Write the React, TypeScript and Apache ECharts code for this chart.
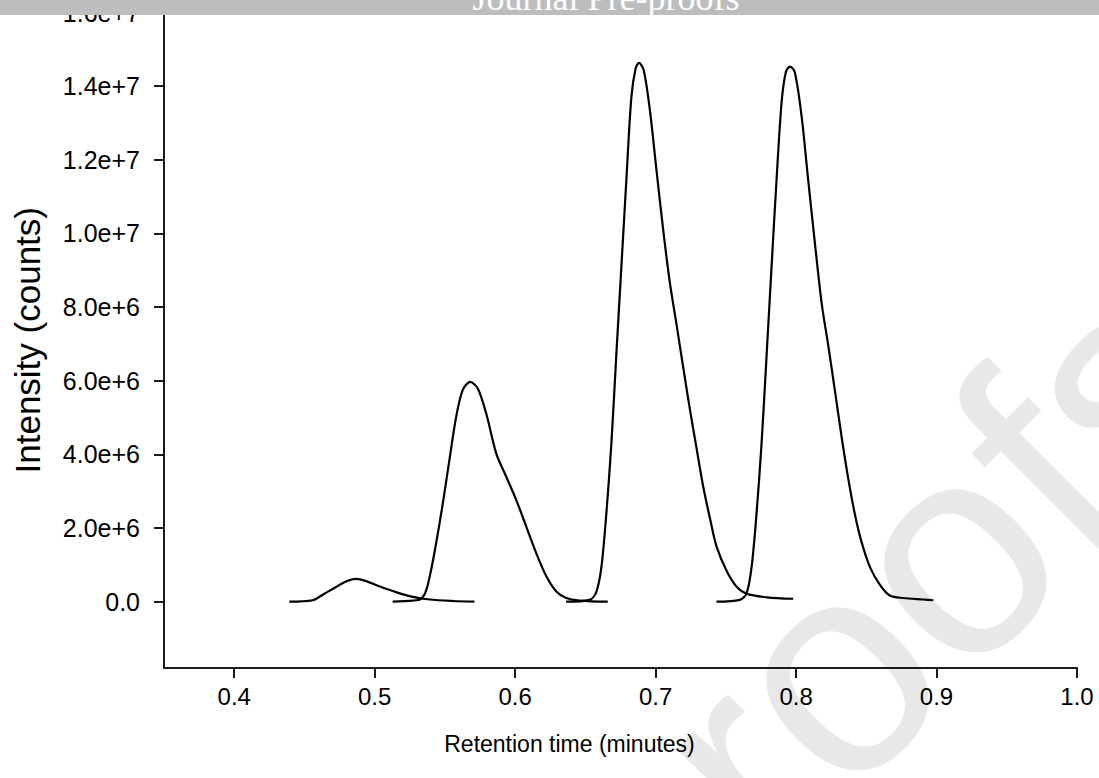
import React, { useEffect, useRef } from "react";
import * as echarts from "echarts";

// Retention time (minutes) and intensity (counts)
const peak1Time = [0.4392, 0.4558, 0.463, 0.4725, 0.4796, 0.4867, 0.4939, 0.5033, 0.5152, 0.5271, 0.539, 0.5556, 0.571];
const peak1Int = [0, 0.04e6, 0.19e6, 0.4e6, 0.55e6, 0.62e6, 0.56e6, 0.42e6, 0.26e6, 0.13e6, 0.06e6, 0.02e6, 0];

const peak2Time = [0.5128, 0.5271, 0.533, 0.5366, 0.5402, 0.5438, 0.5485, 0.5532, 0.558, 0.5627, 0.568, 0.5734, 0.5794, 0.5865, 0.5936, 0.6008, 0.6079, 0.615, 0.6222, 0.6293, 0.6364, 0.6459, 0.6659];
const peak2Int = [0, 0.03e6, 0.08e6, 0.3e6, 0.87e6, 1.6e6, 2.67e6, 3.85e6, 5.02e6, 5.75e6, 5.97e6, 5.79e6, 5.11e6, 4.03e6, 3.4e6, 2.76e6, 2.04e6, 1.32e6, 0.69e6, 0.28e6, 0.1e6, 0.03e6, 0];

const peak3Time = [0.6363, 0.653, 0.6578, 0.6614, 0.6649, 0.6685, 0.672, 0.6756, 0.6792, 0.6827, 0.6858, 0.6882, 0.6915, 0.6958, 0.7005, 0.7053, 0.71, 0.7148, 0.7195, 0.7243, 0.729, 0.7338, 0.7386, 0.7433, 0.7505, 0.7576, 0.7647, 0.779, 0.798];
const peak3Int = [0, 0.05e6, 0.27e6, 0.94e6, 2.38e6, 4.29e6, 6.69e6, 9.08e6, 11.47e6, 13.68e6, 14.49e6, 14.63e6, 14.44e6, 13.39e6, 11.76e6, 10.13e6, 8.7e6, 7.55e6, 6.4e6, 5.25e6, 4.2e6, 3.14e6, 2.28e6, 1.51e6, 0.84e6, 0.41e6, 0.22e6, 0.12e6, 0.08e6];

const peak4Time = [0.7433, 0.7599, 0.7647, 0.7683, 0.7718, 0.7754, 0.779, 0.7825, 0.7861, 0.7897, 0.7927, 0.7956, 0.7991, 0.8039, 0.8086, 0.8134, 0.8182, 0.8229, 0.8277, 0.8324, 0.8372, 0.8419, 0.8467, 0.8526, 0.8597, 0.8668, 0.8763, 0.8906, 0.8977];
const peak4Int = [0, 0.05e6, 0.22e6, 0.93e6, 2.37e6, 4.28e6, 6.68e6, 9.07e6, 11.46e6, 13.57e6, 14.38e6, 14.53e6, 14.38e6, 13.19e6, 11.46e6, 9.74e6, 8.11e6, 6.96e6, 5.72e6, 4.48e6, 3.33e6, 2.37e6, 1.61e6, 0.94e6, 0.46e6, 0.17e6, 0.1e6, 0.06e6, 0.04e6];

const xTicks = [0.4, 0.5, 0.6, 0.7, 0.8, 0.9, 1.0];
const yTicks = [0, 2e6, 4e6, 6e6, 8e6, 10e6, 12e6, 14e6, 16e6];

const xTitle = "Retention time (minutes)";
const yTitle = "Intensity (counts)";
const headerText = "Journal Pre-proofs";

const pair = (xs: number[], ys: number[]) => xs.map((x, i) => [x, ys[i]]);

export default function App() {
  const ref = useRef<HTMLDivElement>(null);

  useEffect(() => {
    document.body.style.margin = "0";
    if (!ref.current) return;
    const chart = echarts.init(ref.current, undefined, { renderer: "svg" });
    const font = "'Liberation Sans', Arial, Helvetica, sans-serif";
    const axisColor = "#1a1a1a";
    const lineSeries = (name: string, xs: number[], ys: number[]) => ({
      name,
      type: "line",
      data: pair(xs, ys),
      smooth: 0.3,
      showSymbol: false,
      symbol: "none",
      lineStyle: { color: "#000", width: 2.2 },
      z: 5,
    });
    chart.setOption({
      animation: false,
      backgroundColor: "#ffffff",
      grid: { left: 164, right: 22, top: 12, bottom: 110, containLabel: false },
      xAxis: {
        type: "value",
        min: 0.35,
        max: 1.0,
        name: xTitle,
        nameLocation: "middle",
        nameGap: 64,
        nameTextStyle: { fontFamily: font, fontSize: 23, color: "#000", padding: [0, 102, 0, 0] },
        axisLine: { onZero: false, lineStyle: { color: axisColor, width: 2 } },
        axisTick: { show: true, customValues: xTicks, length: 10, lineStyle: { color: axisColor, width: 2 } },
        axisLabel: {
          customValues: xTicks,
          margin: 16,
          fontFamily: font,
          fontSize: 24,
          color: "#000",
          formatter: (v: number) => v.toFixed(1),
        },
        splitLine: { show: false },
      },
      yAxis: {
        type: "value",
        min: -1.8e6,
        max: 1.6e7,
        name: yTitle,
        nameLocation: "middle",
        nameGap: 119,
        nameTextStyle: { fontFamily: font, fontSize: 35, color: "#000" },
        axisLine: { show: true, lineStyle: { color: axisColor, width: 2 } },
        axisTick: { show: true, customValues: yTicks, length: 10, lineStyle: { color: axisColor, width: 2 } },
        axisLabel: {
          customValues: yTicks,
          margin: 24,
          fontFamily: font,
          fontSize: 25,
          color: "#000",
          formatter: (v: number) => (v === 0 ? "0.0" : v.toExponential(1)),
        },
        splitLine: { show: false },
      },
      graphic: [
        {
          type: "text",
          x: 1172,
          y: 330,
          rotation: Math.PI / 4,
          z: -10,
          silent: true,
          style: {
            text: headerText,
            fontFamily: font,
            fontSize: 300,
            fill: "#e8e8e8",
            align: "right",
            verticalAlign: "middle",
          },
        },
        {
          type: "rect",
          shape: { x: 0, y: 0, width: 1099, height: 15 },
          z: 100,
          silent: true,
          style: { fill: "#bdbdbd" },
        },
        {
          type: "text",
          x: 606,
          y: -2,
          z: 101,
          silent: true,
          style: {
            text: headerText,
            fontFamily: "'Liberation Serif', 'Times New Roman', serif",
            fontSize: 36,
            fill: "#ffffff",
            align: "center",
            verticalAlign: "middle",
          },
        },
      ],
      series: [
        lineSeries("Peak 1", peak1Time, peak1Int),
        lineSeries("Peak 2", peak2Time, peak2Int),
        lineSeries("Peak 3", peak3Time, peak3Int),
        lineSeries("Peak 4", peak4Time, peak4Int),
      ],
    });
    return () => chart.dispose();
  }, []);

  return <div ref={ref} style={{ width: 1099, height: 778 }} />;
}
